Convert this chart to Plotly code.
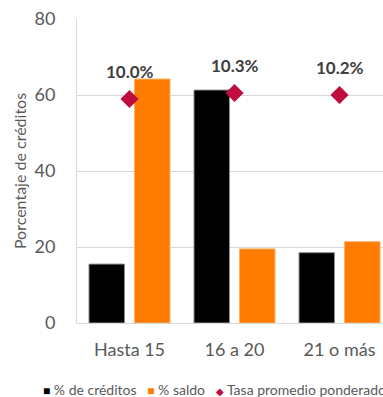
import plotly.graph_objects as go

# Plazo categories and series
categorias = ["Hasta 15", "16 a 20", "21 o más"]
pct_creditos = [15.5, 61.3, 18.5]
pct_saldo = [64.2, 19.5, 21.4]
tasa_promedio = [10.0, 10.3, 10.2]

y_ticks = [0, 20, 40, 60, 80]

NEGRO = "#000000"
NARANJA = "#FF7C00"
ROJO = "#C00D3E"
GRIS_TXT = "#595959"
GRIS_LINEA = "#D9D9D9"
FUENTE = "Lato"

fig = go.Figure()

fig.add_trace(go.Bar(
    x=categorias, y=pct_creditos, name="% de créditos",
    marker=dict(color=NEGRO, line=dict(color="#8C8C8C", width=1)),
))
fig.add_trace(go.Bar(
    x=categorias, y=pct_saldo, name="% saldo",
    marker=dict(color=NARANJA, line=dict(color="#FFB066", width=1)),
))
fig.add_trace(go.Scatter(
    x=categorias, y=tasa_promedio, name="Tasa promedio ponderado",
    mode="markers", yaxis="y2",
    marker=dict(symbol="diamond", size=14, color=ROJO),
))

anotaciones = []
# Rate labels above each diamond
for cat, tasa in zip(categorias, tasa_promedio):
    anotaciones.append(dict(
        x=cat, y=tasa, xref="x", yref="y2", showarrow=False,
        text=f"<b>{tasa:.1f}%</b>", yshift=28,
        font=dict(family=FUENTE, size=17, color="#404040"),
    ))

# Legend row
anotaciones.append(dict(
    x=-0.118, y=-0.220, xref="paper", yref="paper",
    xanchor="left", yanchor="middle", showarrow=False, align="left",
    text=(f"<span style='color:{NEGRO};font-size:12px'>■</span> % de créditos   "
          f"<span style='color:{NARANJA};font-size:12px'>■</span> % saldo   "
          f"<span style='color:{ROJO};font-size:10px'>◆</span> Tasa promedio ponderado"),
    font=dict(family=FUENTE, size=14, color=GRIS_TXT),
))

# Chart title
anotaciones.append(dict(
    x=0.1, y=1, xref="paper", yref="paper",
    xanchor="left", yanchor="bottom", yshift=17, showarrow=False,
    text="<b>Créditos y tasa promedio (años)</b>",
    font=dict(family=FUENTE, size=20, color="#7030A0"),
))

fig.update_layout(
    width=383, height=397,
    margin=dict(l=77, r=0, t=19, b=74),
    paper_bgcolor="white", plot_bgcolor="white",
    barmode="group", bargap=0.133, bargroupgap=0.22,
    showlegend=False,
    font=dict(family=FUENTE, color=GRIS_TXT),
    xaxis=dict(
        type="category", range=[-0.5, 2.414],
        showline=True, linecolor=GRIS_LINEA, linewidth=1,
        showgrid=False, ticks="",
        tickfont=dict(family=FUENTE, size=18, color=GRIS_TXT),
        ticklabelstandoff=10,
    ),
    yaxis=dict(
        range=[0, 80], tickvals=y_ticks,
        showgrid=True, gridcolor=GRIS_LINEA, gridwidth=1,
        showline=True, linecolor=GRIS_LINEA, linewidth=1,
        zeroline=False, ticks="",
        tickfont=dict(family=FUENTE, size=18, color=GRIS_TXT),
        ticklabelstandoff=17,
        title=dict(text="Porcentaje de créditos", standoff=3,
                   font=dict(family=FUENTE, size=16, color=GRIS_TXT)),
    ),
    yaxis2=dict(
        overlaying="y", side="right", range=[-1.2, 14.0],
        visible=False, showgrid=False,
    ),
    annotations=anotaciones,
)

fig.write_html("out.html")
